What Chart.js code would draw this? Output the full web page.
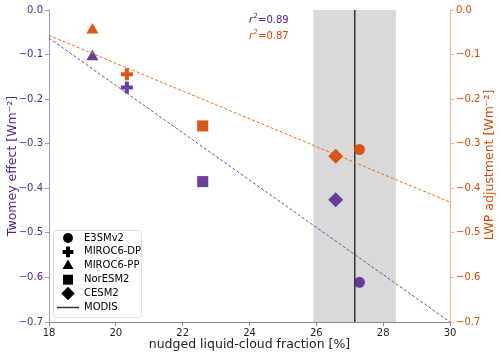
<!DOCTYPE html>
<html>
<head>
<meta charset="utf-8">
<script src="https://cdn.jsdelivr.net/npm/chart.js@4.4.1/dist/chart.umd.min.js"></script>
<style>
  html, body { margin: 0; padding: 0; background: #fff; }
  #wrap { width: 500px; height: 355px; }
</style>
</head>
<body>
<div id="wrap"><canvas id="myChart" width="500" height="355"></canvas></div>
<script>
// model values
const models = ['E3SMv2', 'MIROC6-DP', 'MIROC6-PP', 'NorESM2', 'CESM2'];
const cloudFraction = [27.29, 20.33, 19.30, 22.60, 26.58];
const twomeyEffect = [-0.611, -0.174, -0.105, -0.385, -0.426];
const lwpAdjustment = [-0.313, -0.144, -0.045, -0.260, -0.328];

// regression lines (end points)
const fitX = [18, 30];
const twomeyFit = [-0.063, -0.700];
const lwpFit = [-0.057, -0.431];
const r2Labels = ['0.89', '0.87'];

// MODIS observation and its range
const modisFraction = 27.15;
const modisRange = [25.91, 28.38];

const xTicks = [18, 20, 22, 24, 26, 28, 30];
const yTicks = [0, -0.1, -0.2, -0.3, -0.4, -0.5, -0.6, -0.7];

const PURPLE = '#54278f';
const ORANGE = '#d94801';
const pointStyles = ['circle', 'cross', 'triangle', 'rect', 'rectRot'];
const pointSizes = [5.5, 6, 7, 7.8, 7.5];
const FONT = "'DejaVu Sans', sans-serif";

const fmt = v => Math.abs(v) < 1e-9 ? '0.0' : (v < 0 ? '\u2212' : '') + Math.abs(v).toFixed(1);

function modelSet(vals, color, axis) {
    return models.map((m, i) => ({
        label: m,
        data: [{ x: cloudFraction[i], y: vals[i] }],
        yAxisID: axis,
        pointStyle: pointStyles[i],
        pointRadius: pointSizes[i],
        pointHoverRadius: pointSizes[i],
        backgroundColor: color,
        borderColor: color,
        borderWidth: pointStyles[i] === 'cross' ? 4 : 0,
        showLine: false
    }));
}

function fitSet(vals, color, axis) {
    return {
        label: 'fit',
        data: fitX.map((x, i) => ({ x: x, y: vals[i] })),
        yAxisID: axis,
        showLine: true,
        borderColor: color,
        borderWidth: 1,
        borderDash: [3, 2],
        pointRadius: 0
    };
}

// gray band + MODIS line behind the data, text and legend on top
const extras = {
    id: 'extras',
    beforeDatasetsDraw(chart) {
        const { ctx, chartArea: a, scales: { x } } = chart;
        ctx.save();
        const x0 = x.getPixelForValue(modisRange[0]);
        const x1 = x.getPixelForValue(modisRange[1]);
        ctx.fillStyle = '#d9d9d9';
        ctx.fillRect(x0, a.top, x1 - x0, a.bottom - a.top);
        const xm = x.getPixelForValue(modisFraction);
        ctx.strokeStyle = '#333';
        ctx.lineWidth = 1.5;
        ctx.beginPath();
        ctx.moveTo(xm, a.top);
        ctx.lineTo(xm, a.bottom);
        ctx.stroke();
        ctx.restore();
    },
    afterDraw(chart) {
        const { ctx } = chart;
        ctx.save();
        // r^2 labels
        [[PURPLE, 20], [ORANGE, 36]].forEach(([c, y], i) => {
            let xp = 249;
            ctx.fillStyle = c;
            ctx.textBaseline = 'middle';
            ctx.textAlign = 'left';
            ctx.font = 'italic 10px ' + FONT;
            ctx.fillText('r', xp, y);
            xp += ctx.measureText('r').width + 0.5;
            ctx.font = '7px ' + FONT;
            ctx.fillText('2', xp, y - 4);
            xp += ctx.measureText('2').width;
            ctx.font = '10px ' + FONT;
            ctx.fillText('=' + r2Labels[i], xp, y);
        });

        // right axis title, reading bottom to top
        ctx.translate(490, 165);
        ctx.rotate(-Math.PI / 2);
        ctx.fillStyle = ORANGE;
        ctx.font = '12.5px ' + FONT;
        ctx.textAlign = 'center';
        ctx.textBaseline = 'middle';
        ctx.fillText('LWP adjustment [Wm\u207B\u00B2]', 0, 0);
        ctx.setTransform(1, 0, 0, 1, 0, 0);

        // legend box
        const bx = 53, by = 230, bw = 88, bh = 87;
        ctx.fillStyle = 'rgba(255,255,255,0.85)';
        ctx.strokeStyle = '#e0e0e0';
        ctx.lineWidth = 1;
        ctx.beginPath();
        ctx.roundRect(bx + 0.5, by + 0.5, bw, bh, 3);
        ctx.fill();
        ctx.stroke();
        const labels = models.concat(['MODIS']);
        labels.forEach((lab, i) => {
            const y = 238 + i * 13.9;
            ctx.fillStyle = '#000';
            ctx.strokeStyle = '#000';
            if (i < models.length) {
                const bw = pointStyles[i] === 'cross' ? 4 : 0;
                ctx.lineWidth = bw || 1;
                Chart.helpers.drawPoint(ctx, {
                    pointStyle: pointStyles[i], radius: pointSizes[i] * 0.9,
                    borderWidth: bw, rotation: 0
                }, 68, y);
            } else {
                ctx.lineWidth = 1.5;
                ctx.strokeStyle = '#333';
                ctx.beginPath();
                ctx.moveTo(57, y);
                ctx.lineTo(79, y);
                ctx.stroke();
            }
            ctx.fillStyle = '#000';
            ctx.font = '10px ' + FONT;
            ctx.textAlign = 'left';
            ctx.textBaseline = 'middle';
            ctx.fillText(lab, 84, y);
        });
        ctx.restore();
    }
};

const ctx = document.getElementById('myChart').getContext('2d');
new Chart(ctx, {
    type: 'scatter',
    data: {
        datasets: [
            fitSet(twomeyFit, '#6a51a3', 'y'),
            fitSet(lwpFit, '#f16913', 'y2')
        ].concat(modelSet(twomeyEffect, 'rgba(84,39,143,0.88)', 'y'),
                 modelSet(lwpAdjustment, 'rgba(217,72,1,0.92)', 'y2'))
    },
    options: {
        responsive: false,
        animation: false,
        layout: { padding: { top: 9, left: 0, right: 0, bottom: 0 } },
        plugins: { legend: { display: false }, tooltip: { enabled: false } },
        scales: {
            x: {
                type: 'linear', min: 18, max: 30,
                afterBuildTicks: s => { s.ticks = xTicks.map(v => ({ value: v })); },
                afterFit: s => { s.height = 33; },
                grid: { drawOnChartArea: false, drawTicks: true, tickLength: 4, color: '#888' },
                border: { color: '#888', width: 1 },
                ticks: { color: '#222', font: { family: FONT, size: 10 }, padding: 1, maxRotation: 0 },
                title: { display: true, text: 'nudged liquid-cloud fraction [%]', color: '#222',
                         font: { family: FONT, size: 12.5 }, padding: { top: 0, bottom: 3 } }
            },
            y: {
                position: 'left', min: -0.7, max: 0,
                afterBuildTicks: s => { s.ticks = yTicks.map(v => ({ value: v })); },
                afterFit: s => { s.width = 49; },
                grid: { drawOnChartArea: false, drawTicks: true, tickLength: 4, color: '#9e9ac8' },
                border: { color: '#9e9ac8', width: 1 },
                ticks: { color: PURPLE, font: { family: FONT, size: 10 }, padding: 2, callback: fmt },
                title: { display: true, text: 'Twomey effect [Wm\u207B\u00B2]', color: PURPLE,
                         font: { family: FONT, size: 12.5 }, padding: { top: 5, bottom: 0 } }
            },
            y2: {
                position: 'right', min: -0.7, max: 0,
                afterBuildTicks: s => { s.ticks = yTicks.map(v => ({ value: v })); },
                afterFit: s => { s.width = 50; },
                grid: { drawOnChartArea: false, drawTicks: true, tickLength: 4, color: '#f5b08c' },
                border: { color: '#f5b08c', width: 1 },
                ticks: { color: ORANGE, font: { family: FONT, size: 10 }, padding: 2, callback: fmt }
            }
        }
    },
    plugins: [extras]
});
</script>
</body>
</html>
